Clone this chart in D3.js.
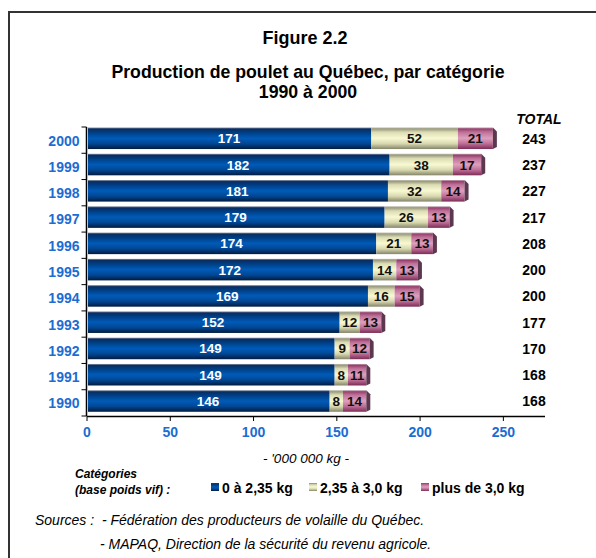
<!DOCTYPE html>
<html>
<head>
<meta charset="utf-8">
<script src="https://cdn.jsdelivr.net/npm/d3@7"></script>
<style>
  body { margin: 0; background: #fff; }
  text { font-family: Arial, "Liberation Sans", sans-serif; }
</style>
</head>
<body>
<div id="chart"></div>
<script>
// data
var years = ['2000','1999','1998','1997','1996','1995','1994','1993','1992','1991','1990']
var cat1 = [171, 182, 181, 179, 174, 172, 169, 152, 149, 149, 146]
var cat2 = [52, 38, 32, 26, 21, 14, 16, 12, 9, 8, 8]
var cat3 = [21, 17, 14, 13, 13, 13, 15, 13, 12, 11, 14]
var totals = [243, 237, 227, 217, 208, 200, 200, 177, 170, 168, 168]
var categories = ['0 à 2,35 kg', '2,35 à 3,0 kg', 'plus de 3,0 kg']
var xTicks = [0, 50, 100, 150, 200, 250]

var width = 596, height = 558

var svg = d3.select('#chart').append('svg')
  .attr('width', width)
  .attr('height', height)

// gradients giving the bars their shaded tube look
var grads = [
  {id: 'g0', stops: [['0%','#8a96aa'],['7%','#0b2c5e'],['20%','#003b7e'],['50%','#005bb8'],['75%','#004794'],['100%','#001b3f']]},
  {id: 'g1', stops: [['0%','#b8b8a8'],['7%','#9c9c80'],['22%','#dcdcb4'],['50%','#f8f8d2'],['75%','#d8d8b0'],['100%','#84846a']]},
  {id: 'g2', stops: [['0%','#b8a0ac'],['7%','#98406e'],['22%','#bf7299'],['50%','#de9fbd'],['75%','#bd6e96'],['100%','#7c2c56']]}
]
var defs = svg.append('defs')
grads.forEach(function(g){
  var lg = defs.append('linearGradient').attr('id', g.id)
    .attr('x1', 0).attr('y1', 0).attr('x2', 0).attr('y2', 1)
  g.stops.forEach(function(s){
    lg.append('stop').attr('offset', s[0]).attr('stop-color', s[1])
  })
})

// frame
svg.append('rect')
  .attr('x', 9).attr('y', 12)
  .attr('width', 620).attr('height', 580)
  .style('fill', 'none')
  .style('stroke', '#333')
  .style('stroke-width', 2)

// titles
svg.append('text').attr('x', 305).attr('y', 44)
  .attr('text-anchor', 'middle')
  .style('font-size', '18px').style('font-weight', 'bold')
  .text('Figure 2.2')
svg.append('text').attr('x', 308).attr('y', 78)
  .attr('text-anchor', 'middle')
  .style('font-size', '17.7px').style('font-weight', 'bold')
  .text('Production de poulet au Québec, par catégorie')
svg.append('text').attr('x', 308).attr('y', 98)
  .attr('text-anchor', 'middle')
  .style('font-size', '17.7px').style('font-weight', 'bold')
  .text('1990 à 2000')

var x = d3.scaleLinear().domain([0, 275]).range([86.5, 544.5])
var y = d3.scaleBand().domain(years).range([127, 416]).padding(0)
var barH = y.bandwidth() * 0.82

// stacked data
var rows = years.map(function(yr, i){
  return {year: yr, vals: [cat1[i], cat2[i], cat3[i]], total: totals[i]}
})
var segs = []
rows.forEach(function(r){
  var x0 = 0
  r.vals.forEach(function(v, k){
    segs.push({year: r.year, k: k, x0: x0, x1: x0 + v, v: v})
    x0 += v
  })
})

svg.selectAll('rect.seg')
  .data(segs)
  .enter()
  .append('rect')
  .attr('class', 'seg')
  .attr('x', function(d){ return x(d.x0) + (d.k == 0 ? 1.5 : 0) })
  .attr('y', function(d){ return y(d.year) + 0.5 })
  .attr('width', function(d){ return x(d.x1) - x(d.x0) - (d.k == 0 ? 1.5 : 0) })
  .attr('height', barH)
  .style('fill', function(d){ return 'url(#g' + d.k + ')' })

// right side face of each bar
svg.selectAll('polygon.cap')
  .data(rows)
  .enter()
  .append('polygon')
  .attr('class', 'cap')
  .attr('points', function(d){
    var xe = x(d3.sum(d.vals)), yt = y(d.year) + 0.5
    return [[xe, yt], [xe + 4, yt + 4], [xe + 4, yt + barH - 2], [xe, yt + barH]].join(' ')
  })
  .style('fill', '#5c3750')

// segment values
svg.selectAll('text.val')
  .data(segs)
  .enter()
  .append('text')
  .attr('class', 'val')
  .attr('x', function(d){ return (x(d.x0) + x(d.x1)) / 2 })
  .attr('y', function(d){ return y(d.year) + barH / 2 + 5.5 })
  .attr('text-anchor', 'middle')
  .style('font-size', '13.5px').style('font-weight', 'bold')
  .style('fill', function(d){ return d.k == 0 ? '#fff' : '#111' })
  .text(function(d){ return d.v })

// totals column
svg.append('text').attr('x', 539).attr('y', 124)
  .attr('text-anchor', 'middle')
  .style('font-size', '14px').style('font-weight', 'bold').style('font-style', 'italic')
  .text('TOTAL')
svg.selectAll('text.tot')
  .data(rows)
  .enter()
  .append('text')
  .attr('class', 'tot')
  .attr('x', 534)
  .attr('y', function(d){ return y(d.year) + barH / 2 + 6 })
  .attr('text-anchor', 'middle')
  .style('font-size', '14px').style('font-weight', 'bold')
  .text(function(d){ return d.total })

// x axis
var xAxis = svg.append('g')
  .attr('transform', 'translate(0,416)')
  .call(d3.axisBottom(x).tickValues(xTicks).tickSize(5).tickSizeOuter(0))
xAxis.select('.domain').style('stroke', '#000').style('stroke-width', 1.5)
xAxis.selectAll('.tick line').style('stroke', '#000')
xAxis.selectAll('.tick text')
  .attr('y', 21).attr('dy', 0)
  .style('font-size', '14px').style('font-weight', 'bold')
  .style('font-family', 'Arial, "Liberation Sans", sans-serif')
  .style('fill', '#1c6cd2')

// y axis with ticks between categories
var yAxis = svg.append('g').attr('transform', 'translate(86.5,0)')
yAxis.append('line')
  .attr('y1', y.range()[0]).attr('y2', y.range()[1])
  .style('stroke', '#000').style('stroke-width', 1.5)
yAxis.selectAll('line.tk')
  .data(years.map(function(d){ return y(d) }).concat([y.range()[1]]))
  .enter()
  .append('line')
  .attr('class', 'tk')
  .attr('x1', -5).attr('x2', 0)
  .attr('y1', function(d){ return d }).attr('y2', function(d){ return d })
  .style('stroke', '#000')
yAxis.selectAll('text')
  .data(years)
  .enter()
  .append('text')
  .attr('x', -7)
  .attr('y', function(d){ return y(d) + y.bandwidth() / 2 + 5.5 })
  .attr('text-anchor', 'end')
  .style('font-size', '14px').style('font-weight', 'bold')
  .style('fill', '#1c6cd2')
  .text(function(d){ return d })

// unit label
svg.append('text').attr('x', 306).attr('y', 463)
  .attr('text-anchor', 'middle')
  .style('font-size', '13.5px').style('font-style', 'italic')
  .text("- '000 000 kg -")

// legend
svg.append('text').attr('x', 75).attr('y', 478)
  .style('font-size', '12px').style('font-weight', 'bold').style('font-style', 'italic')
  .text('Catégories')
svg.append('text').attr('x', 75).attr('y', 494)
  .style('font-size', '12px').style('font-weight', 'bold').style('font-style', 'italic')
  .text('(base poids vif) :')

var legX = [211, 309, 421]
var leg = svg.selectAll('g.leg')
  .data(categories)
  .enter()
  .append('g')
  .attr('class', 'leg')
  .attr('transform', function(d, i){ return 'translate(' + legX[i] + ',483)' })
leg.append('rect')
  .attr('width', 8).attr('height', 8)
  .style('fill', function(d, i){ return 'url(#g' + i + ')' })
leg.append('text')
  .attr('x', 11).attr('y', 9.5)
  .style('font-size', '14px').style('font-weight', 'bold')
  .text(function(d){ return d })

// sources
svg.append('text').attr('x', 35).attr('y', 525)
  .attr('xml:space', 'preserve')
  .style('white-space', 'pre')
  .style('font-size', '14px').style('font-style', 'italic')
  .text('Sources :  - Fédération des producteurs de volaille du Québec.')
svg.append('text').attr('x', 100).attr('y', 549)
  .style('font-size', '14px').style('font-style', 'italic')
  .text('- MAPAQ, Direction de la sécurité du revenu agricole.')
</script>
</body>
</html>
